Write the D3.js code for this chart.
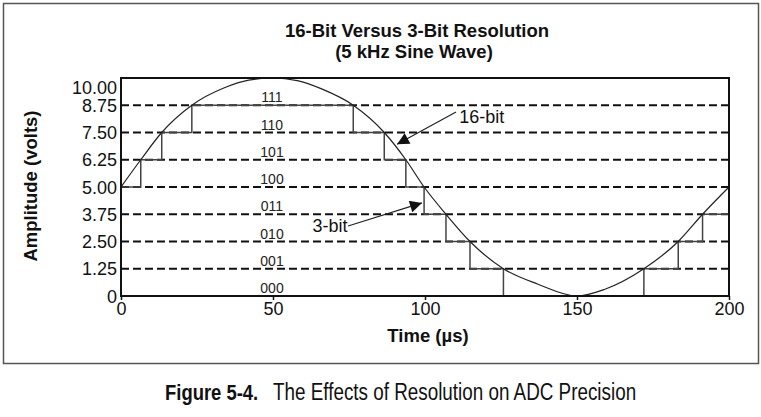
<!DOCTYPE html>
<html>
<head>
<meta charset="utf-8">
<script src="https://cdn.jsdelivr.net/npm/d3@7"></script>
<style>
  body { margin: 0; background: #fff; }
  svg { display: block; font-family: "Liberation Sans", Arial, sans-serif; }
</style>
</head>
<body>
<svg id="chart" width="761" height="417"></svg>
<script>
// y ticks / labels
const yTicks = [0, 1.25, 2.5, 3.75, 5, 6.25, 7.5, 8.75, 10]
const yTickLabels = ["0", "1.25", "2.50", "3.75", "5.00", "6.25", "7.50", "8.75", "10.00"]
const xTicks = [0, 50, 100, 150, 200]
// 3-bit codes, one per band (bottom edge of band)
const codes = ["000", "001", "010", "011", "100", "101", "110", "111"]
const codeLevels = [0, 1.25, 2.5, 3.75, 5, 6.25, 7.5, 8.75]

// 16-bit trace (µs, volts)
const waveTime  = [0, 6.5, 13.4, 23.3, 34, 42, 50, 58, 66, 76.4, 86.6, 93.7, 99.7, 106.9, 114.8, 125.8, 137, 150, 159, 172, 183.3, 191.3, 200]
const waveVolts = [5, 6.25, 7.5, 8.75, 9.55, 9.9, 10, 9.88, 9.5, 8.75, 7.5, 6.25, 5, 3.75, 2.5, 1.25, 0.55, 0, 0.3, 1.25, 2.5, 3.75, 5]

// 3-bit staircase: time where each level starts
const stepTime  = [0, 6.5, 13.4, 23.3, 76.4, 86.6, 93.7, 99.7, 106.9, 114.8, 125.8, 172.0, 183.3, 191.3, 200]
const stepVolts = [5, 6.25, 7.5, 8.75, 7.5, 6.25, 5, 3.75, 2.5, 1.25, 0, 1.25, 2.5, 3.75, 3.75]

// annotation arrows [label, labelT, labelV, fromT, fromV, tipT, tipV]
const notes = [
    ["16-bit", 111.3, 7.95, 110.2, 8.44, 90.8, 6.96],
    ["3-bit", 74.5, 2.92, 74.7, 3.21, 99.0, 4.27]
]

const svg = d3.select('#chart')
const x = d3.scaleLinear().domain([0, 200]).range([121, 729])
const y = d3.scaleLinear().domain([0, 10]).range([296, 78])

// outer frame
svg.append('rect')
    .attr('x', 3.5).attr('y', 3.5)
    .attr('width', 755).attr('height', 360)
    .attr('fill', 'none')
    .attr('stroke', '#555')
    .attr('stroke-width', 1.5)

// title
const title = svg.append('text')
    .attr('text-anchor', 'middle')
    .attr('font-weight', 'bold')
    .attr('font-size', 18.5)
    .attr('fill', '#111')
title.append('tspan').attr('x', 417).attr('y', 37).text('16-Bit Versus 3-Bit Resolution')
title.append('tspan').attr('x', 414).attr('y', 58).text('(5 kHz Sine Wave)')

// dashed level lines
svg.append('g')
    .selectAll('line')
    .data(yTicks.filter(d => d > 0 && d < 10))
    .join('line')
    .attr('x1', x(0)).attr('x2', x(200))
    .attr('y1', d => y(d)).attr('y2', d => y(d))
    .attr('stroke', '#111')
    .attr('stroke-width', 1.8)
    .attr('stroke-dasharray', '8,4')

// code labels
svg.append('g')
    .selectAll('text')
    .data(codes)
    .join('text')
    .attr('x', x(50) - 1)
    .attr('y', (d, i) => y(codeLevels[i]) - 3)
    .attr('text-anchor', 'middle')
    .attr('font-size', 14)
    .attr('fill', '#222')
    .text(d => d)

// 3-bit staircase
const stair = d3.line()
    .x((d, i) => x(stepTime[i]))
    .y((d, i) => y(stepVolts[i]))
    .curve(d3.curveStepAfter)
svg.append('path')
    .attr('d', stair(stepTime))
    .attr('fill', 'none')
    .attr('stroke', '#444')
    .attr('stroke-width', 1.5)

// 16-bit trace
const wave = d3.line()
    .x((d, i) => x(waveTime[i]))
    .y((d, i) => y(waveVolts[i]))
    .curve(d3.curveMonotoneX)
svg.append('path')
    .attr('d', wave(waveTime))
    .attr('fill', 'none')
    .attr('stroke', '#222')
    .attr('stroke-width', 1.2)

// axes
const yAxis = svg.append('g')
    .attr('transform', `translate(${x(0)},0)`)
    .call(d3.axisLeft(y).tickValues(yTicks).tickFormat((d, i) => yTickLabels[i]).tickSize(0).tickPadding(4))
yAxis.attr('font-family', null).attr('font-size', 18)
yAxis.select('.domain').remove()
yAxis.selectAll('text')
    .attr('fill', '#111')
    .attr('dy', d => d === 10 ? '0.85em' : '0.34em')

const xAxis = svg.append('g')
    .attr('transform', `translate(0,${y(0)})`)
    .call(d3.axisBottom(x).tickValues(xTicks).tickSize(4).tickPadding(2))
xAxis.attr('font-family', null).attr('font-size', 18)
xAxis.select('.domain').remove()
xAxis.selectAll('line').attr('stroke', '#111').attr('stroke-width', 1.5)
xAxis.selectAll('text').attr('fill', '#111')

// plot box
svg.append('rect')
    .attr('x', x(0)).attr('y', y(10))
    .attr('width', x(200) - x(0)).attr('height', y(0) - y(10))
    .attr('fill', 'none')
    .attr('stroke', '#111')
    .attr('stroke-width', 2)

// axis titles
svg.append('text')
    .attr('x', 428).attr('y', 342)
    .attr('text-anchor', 'middle')
    .attr('font-weight', 'bold')
    .attr('font-size', 18.5)
    .attr('fill', '#111')
    .text('Time (µs)')
svg.append('text')
    .attr('transform', 'translate(37,186) rotate(-90)')
    .attr('text-anchor', 'middle')
    .attr('font-weight', 'bold')
    .attr('font-size', 18.5)
    .attr('fill', '#111')
    .text('Amplitude (volts)')

// arrows
svg.append('defs').append('marker')
    .attr('id', 'head')
    .attr('viewBox', '0 0 10 10')
    .attr('refX', 10).attr('refY', 5)
    .attr('markerWidth', 20).attr('markerHeight', 12)
    .attr('markerUnits', 'userSpaceOnUse')
    .attr('orient', 'auto')
    .append('path')
    .attr('d', 'M0,0L10,5L0,10Z')
    .attr('fill', '#111')

notes.forEach((n, i) => {
    svg.append('line')
        .attr('x1', x(n[3])).attr('y1', y(n[4]))
        .attr('x2', x(n[5])).attr('y2', y(n[6]))
        .attr('stroke', '#222')
        .attr('stroke-width', 1.2)
        .attr('marker-end', 'url(#head)')
    svg.append('text')
        .attr('x', x(n[1])).attr('y', y(n[2]))
        .attr('text-anchor', i === 0 ? 'start' : 'end')
        .attr('font-size', 18)
        .attr('fill', '#111')
        .text(n[0])
})

// caption - no narrow font installed, so squeeze horizontally
const cap = svg.append('g')
    .attr('transform', 'translate(165,400) scale(0.82,1)')
    .attr('fill', '#111')
cap.append('text')
    .attr('x', 0).attr('y', 0)
    .attr('font-weight', 'bold')
    .attr('font-size', 22.5)
    .text('Figure 5-4.')
cap.append('text')
    .attr('x', (273 - 165) / 0.82).attr('y', 0)
    .attr('font-size', 23)
    .text('The Effects of Resolution on ADC Precision')
</script>
</body>
</html>
